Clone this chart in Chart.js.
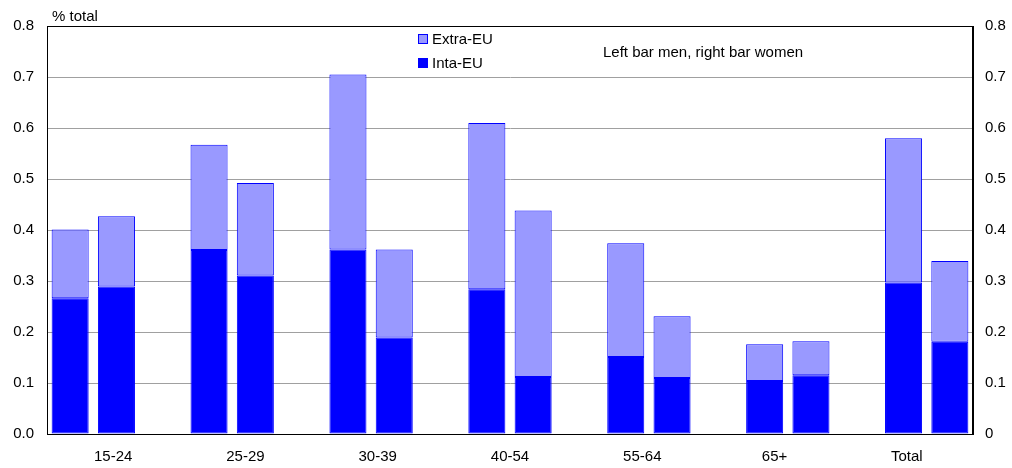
<!DOCTYPE html>
<html>
<head>
<meta charset="utf-8">
<script src="https://cdn.jsdelivr.net/npm/chart.js@4/dist/chart.umd.min.js"></script>
<style>
  html, body { margin: 0; padding: 0; background: #fff; }
  #wrap { width: 1012px; height: 468px; position: relative; }
</style>
</head>
<body>
<div id="wrap"><canvas id="c"></canvas></div>
<script>
// Age groups (one pair of bars per group: men left, women right)
const groups = ['15-24', '25-29', '30-39', '40-54', '55-64', '65+', 'Total'];

// Intra-EU share, % of total
const intraMen   = [0.266, 0.361, 0.362, 0.284, 0.151, 0.104, 0.297];
const intraWomen = [0.289, 0.311, 0.189, 0.112, 0.110, 0.115, 0.181];

// Extra-EU share, % of total
const extraMen   = [0.135, 0.206, 0.343, 0.326, 0.223, 0.072, 0.283];
const extraWomen = [0.138, 0.181, 0.173, 0.326, 0.121, 0.067, 0.158];

// Left-axis and right-axis tick texts
const leftTicks  = ['0.0', '0.1', '0.2', '0.3', '0.4', '0.5', '0.6', '0.7', '0.8'];
const rightTicks = ['0', '0.1', '0.2', '0.3', '0.4', '0.5', '0.6', '0.7', '0.8'];

// Bar slots: men, women, empty gap ... (no gap after the last group)
function slots(men, women) {
  const out = [];
  men.forEach((m, i) => {
    out.push(m, women[i]);
    if (i < men.length - 1) out.push(null);
  });
  return out;
}
const slotLabels = slots(groups.map(g => g + ' M'), groups.map(g => g + ' W'));

const FONT = 'Arial, "Liberation Sans", sans-serif';
const FSIZE = 15;
const DARK = '#0000FF';
const LIGHT = '#9999FF';

const frame = {
  id: 'frame',
  afterDraw(chart) {
    const { ctx, chartArea: a } = chart;
    ctx.save();
    ctx.strokeStyle = '#000';
    ctx.lineWidth = 1;
    ctx.strokeRect(Math.round(a.left) + 0.5, Math.round(a.top) + 0.5,
                   Math.round(a.right - a.left) - 1, Math.round(a.bottom - a.top));

    ctx.fillStyle = '#000';
    ctx.font = FSIZE + 'px ' + FONT;
    ctx.textBaseline = 'middle';
    ctx.textAlign = 'left';
    ctx.fillText('% total', 52, 17);

    // legend
    ctx.lineWidth = 1;
    ctx.fillStyle = LIGHT;
    ctx.fillRect(418, 34, 10, 10);
    ctx.strokeStyle = DARK;
    ctx.strokeRect(418.5, 34.5, 9, 9);
    ctx.fillStyle = DARK;
    ctx.fillRect(418, 58, 10, 10);
    ctx.fillStyle = '#000';
    ctx.fillText('Extra-EU', 432, 40);
    ctx.fillText('Inta-EU', 432, 64);

    ctx.fillText('Left bar men, right bar women', 603, 53);
    ctx.restore();
  }
};

new Chart(document.getElementById('c'), {
  type: 'bar',
  data: {
    labels: slotLabels,
    datasets: [
      {
        label: 'Inta-EU',
        data: slots(intraMen, intraWomen),
        backgroundColor: DARK,
        borderColor: DARK,
        borderWidth: 1,
        borderSkipped: false,
        barPercentage: 0.8,
        categoryPercentage: 1.0,
        xAxisID: 'x',
        yAxisID: 'y'
      },
      {
        label: 'Extra-EU',
        data: slots(extraMen, extraWomen),
        backgroundColor: LIGHT,
        borderColor: DARK,
        borderWidth: 1,
        borderSkipped: false,
        barPercentage: 0.8,
        categoryPercentage: 1.0,
        xAxisID: 'x',
        yAxisID: 'y'
      }
    ]
  },
  options: {
    responsive: true,
    maintainAspectRatio: false,
    animation: false,
    layout: { padding: { top: 26, left: 0, right: 0, bottom: 0 } },
    plugins: {
      legend: { display: false },
      tooltip: { enabled: false }
    },
    scales: {
      x: {
        type: 'category',
        stacked: true,
        display: false,
        offset: true
      },
      groupAxis: {
        type: 'category',
        labels: groups,
        position: 'bottom',
        offset: true,
        grid: { display: false, drawTicks: false },
        border: { display: true, color: '#000', width: 1 },
        ticks: { color: '#000', font: { family: FONT, size: FSIZE }, padding: 14, maxRotation: 0, autoSkip: false },
        afterFit(s) { s.height = 34; }
      },
      y: {
        position: 'left',
        stacked: true,
        min: 0,
        max: 0.8,
        ticks: {
          stepSize: 0.1,
          color: '#000',
          padding: 13,
          font: { family: FONT, size: FSIZE },
          callback: (v, i) => leftTicks[i]
        },
        grid: { color: '#a0a0a0', lineWidth: 1, drawTicks: false },
        border: { display: true, color: '#000', width: 1 },
        afterFit(s) { s.width = 47; }
      },
      y2: {
        position: 'right',
        min: 0,
        max: 0.8,
        ticks: {
          stepSize: 0.1,
          color: '#000',
          padding: 12,
          font: { family: FONT, size: FSIZE },
          callback: (v, i) => rightTicks[i]
        },
        grid: { display: false, drawTicks: false },
        border: { display: true, color: '#000', width: 1 },
        afterFit(s) { s.width = 39; }
      }
    }
  },
  plugins: [frame]
});
</script>
</body>
</html>
